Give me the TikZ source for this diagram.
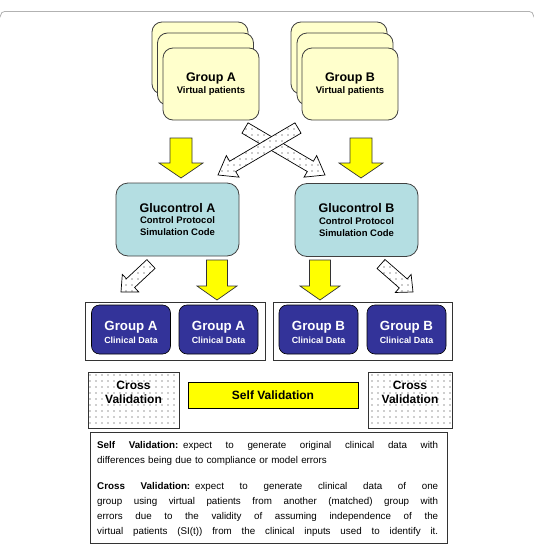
\documentclass[tikz,border=0pt]{standalone}
\usepackage{fontspec}
\setmainfont{Liberation Sans}
\usetikzlibrary{positioning}
\usetikzlibrary{calc}
\usetikzlibrary{patterns.meta}

\definecolor{cardyellow}{RGB}{255,255,204}
\definecolor{gluccyan}{RGB}{180,222,226}
\definecolor{clinnavy}{RGB}{51,51,153}
\definecolor{signyellow}{RGB}{255,255,0}

% block arrow: style, tail, tip, body half width, head half width, head length
\newcommand{\blockarrow}[6]{%
  \coordinate (bahead) at ($(#3)!#6!(#2)$);
  \draw[#1] ($(#2)!#4!90:(#3)$) -- ($(bahead)!#4!90:(#3)$) -- ($(bahead)!#5!90:(#3)$) -- (#3)
    -- ($(bahead)!#5!-90:(#3)$) -- ($(bahead)!#4!-90:(#3)$) -- ($(#2)!#4!-90:(#3)$) -- cycle;}
% one justified line of the notes
\newcommand{\noteline}[1]{\makebox[341pt][s]{\spaceskip=0.28em plus 1fil\relax #1}}

\tikzset{
  vcard/.style={draw=black!75, fill=cardyellow, line width=0.8pt, rounded corners=10pt,
    minimum width=96pt, minimum height=72pt, align=center, font=\fontsize{9.5}{11.5}\selectfont\bfseries},
  ctrlbox/.style={draw=black!75, fill=gluccyan, line width=0.8pt, rounded corners=12pt,
    minimum width=123pt, minimum height=73pt, align=center, font=\fontsize{9.5}{11.8}\selectfont\bfseries},
  groupframe/.style={draw=black!80, line width=0.8pt, minimum width=180pt, minimum height=58pt},
  clinbox/.style={draw=black, fill=clinnavy, text=white, line width=0.6pt, rounded corners=8pt,
    minimum width=79pt, minimum height=49pt, align=center, font=\fontsize{8.9}{13}\selectfont\bfseries},
  crossbox/.style={draw=black!80, line width=0.8pt, preaction={fill=white},
    pattern={Dots[distance=6pt, radius=0.6pt]}, pattern color=black!80,
    minimum height=56pt, text depth=16pt, align=center, font=\fontsize{12}{14}\selectfont\bfseries},
  selfbox/.style={draw=black, fill=signyellow, line width=0.7pt, minimum width=170pt, minimum height=26pt,
    font=\fontsize{12}{14}\selectfont\bfseries},
  solidarrow/.style={draw=black!80, fill=signyellow, line width=0.7pt},
  dotarrow/.style={draw=black, line width=0.7pt, preaction={fill=white},
    pattern={Dots[distance=6pt, radius=0.6pt]}, pattern color=black!85},
}

\begin{document}
\begin{tikzpicture}[x=1pt, y=-1pt]

\useasboundingbox (0,0) rectangle (534,549);
\draw[black!30, line width=0.8pt, rounded corners=4pt] (0.6,15) -- (0.6,11.5) -- (533.4,11.5) -- (533.4,15);

\coordinate (cardAc) at (211,84);
\coordinate (cardBc) at (350,84);
\node[vcard] (cardAback) at ($(cardAc)+(-11,-26)$) {};
\node[vcard] (cardBback) at ($(cardBc)+(-11,-26)$) {};
\node[vcard] (cardAmid) at ($(cardAc)+(-5.5,-15)$) {};
\node[vcard] (cardBmid) at ($(cardBc)+(-5,-15)$) {};
\node[vcard] (cardA) at (cardAc) {{\fontsize{12.5}{11.5}\selectfont Group A}\\Virtual patients};
\node[vcard] (cardB) at (cardBc) {{\fontsize{12.5}{11.5}\selectfont Group B}\\Virtual patients};

\node[ctrlbox] (glucA) at (177.5,219.5) {{\fontsize{12.5}{11.8}\selectfont Glucontrol A}\\Control Protocol\\Simulation Code};
\node[ctrlbox] (glucB) at (356.5,220) {{\fontsize{12.5}{11.8}\selectfont Glucontrol B}\\Control Protocol\\Simulation Code};

\node[groupframe] (frameA) at (175,331) {};
\node[groupframe, minimum width=179pt] (frameB) at (362.5,331) {};
\node[clinbox] (clinA1) at (131,329.5) {\rule{0pt}{16pt}{\fontsize{13.3}{13}\selectfont Group A}\\Clinical Data};
\node[clinbox] (clinA2) at (218.5,329.5) {\rule{0pt}{16pt}{\fontsize{13.3}{13}\selectfont Group A}\\Clinical Data};
\node[clinbox] (clinB1) at (318.5,329.5) {\rule{0pt}{16pt}{\fontsize{13.3}{13}\selectfont Group B}\\Clinical Data};
\node[clinbox] (clinB2) at (406.5,329.5) {\rule{0pt}{16pt}{\fontsize{13.3}{13}\selectfont Group B}\\Clinical Data};

\node[crossbox, minimum width=91pt] (crossA) at (133.5,400) {Cross\\Validation};
\node[crossbox, minimum width=84pt] (crossB) at (410,400) {Cross\\Validation};
\node[selfbox] (selfval) at (273,395) {Self Validation};

\node[draw=black!80, line width=0.8pt, minimum width=357.5pt, minimum height=111pt] (notes) at (269,487.5) {};
\node[anchor=base west, inner sep=0pt, text width=341pt, align=left, font=\fontsize{9.8}{15}\selectfont] (notestext) at (97,448.5)
  {\noteline{\textbf{Self Validation:} expect to generate original clinical data with}\\
   differences being due to compliance or model errors\\[11pt]
   \noteline{\textbf{Cross Validation:} expect to generate clinical data of one}\\
   \noteline{group using virtual patients from another (matched) group with}\\
   \noteline{errors due to the validity of assuming independence of the}\\
   \noteline{virtual patients (SI(t)) from the clinical inputs used to identify it.}};

\coordinate (yAtop) at (181,138);
\coordinate (yAtip) at (181,178);
\coordinate (yBtop) at (361,138);
\coordinate (yBtip) at (361,178);
\coordinate (yA2top) at (217,260);
\coordinate (yA2tip) at (217,300);
\coordinate (yB2top) at (320,260);
\coordinate (yB2tip) at (320,300);
\blockarrow{solidarrow}{yAtop}{yAtip}{11pt}{22pt}{15pt}
\blockarrow{solidarrow}{yBtop}{yBtip}{11pt}{22pt}{15pt}
\blockarrow{solidarrow}{yA2top}{yA2tip}{10.5pt}{20pt}{14pt}
\blockarrow{solidarrow}{yB2top}{yB2tip}{10.5pt}{20pt}{14pt}

\coordinate (xAtail) at (245,128);
\coordinate (xAtip) at (325,175);
\coordinate (xBtail) at (298,128);
\coordinate (xBtip) at (218,175);
\blockarrow{dotarrow}{xAtail}{xAtip}{6pt}{12.5pt}{17pt}
\blockarrow{dotarrow}{xBtail}{xBtip}{6pt}{12.5pt}{17pt}

\coordinate (dAtail) at (151,264);
\coordinate (dAtip) at (121,292);
\coordinate (dBtail) at (381,264);
\coordinate (dBtip) at (413,292);
\blockarrow{dotarrow}{dAtail}{dAtip}{6pt}{12pt}{13pt}
\blockarrow{dotarrow}{dBtail}{dBtip}{6pt}{12pt}{13pt}

\end{tikzpicture}
\end{document}
